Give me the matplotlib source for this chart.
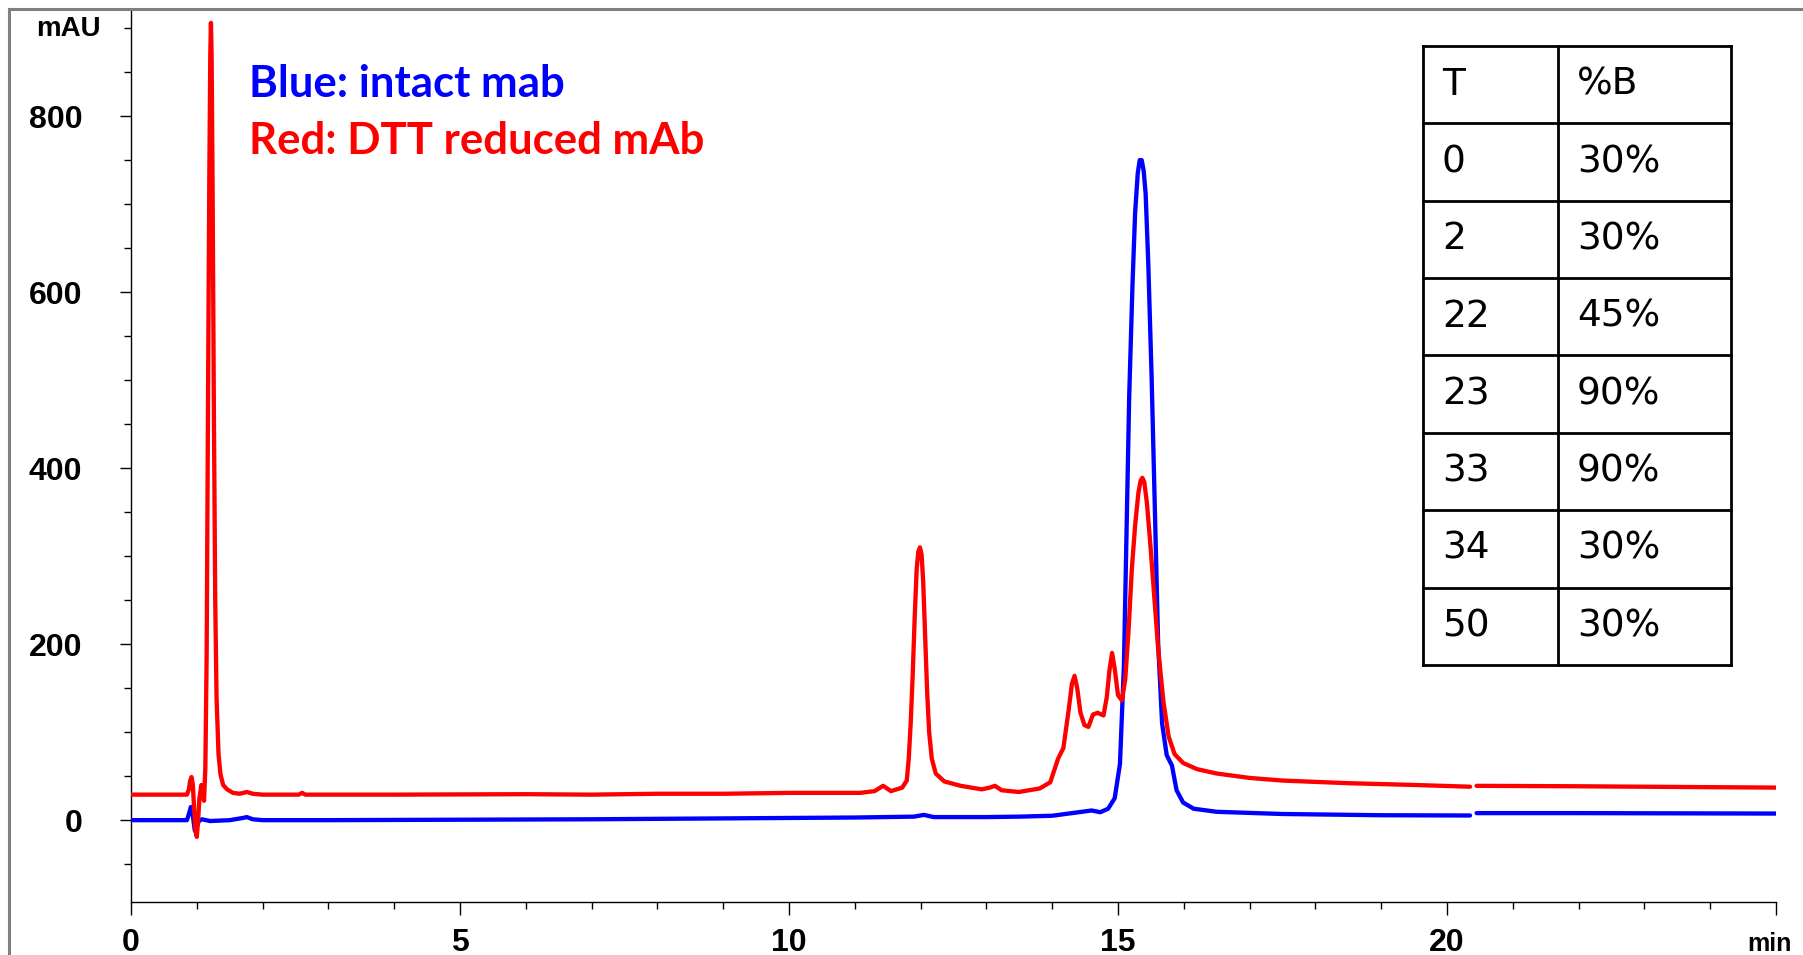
import numpy as np
import matplotlib
matplotlib.use("Agg")
import matplotlib.pyplot as plt
from matplotlib.lines import Line2D

nan = float("nan")

# ---- data ----
red_t = [0.0, 0.5, 0.85, 0.88, 0.90, 0.92, 0.94, 0.96, 0.98, 1.00, 1.02, 1.04, 1.07, 1.09, 1.11,
         1.13, 1.15, 1.17, 1.19, 1.205, 1.215, 1.225, 1.24, 1.26, 1.28, 1.30, 1.33, 1.36, 1.40,
         1.46, 1.55, 1.65, 1.76, 1.85, 2.0, 2.55, 2.6, 2.65,
         4.0, 6.0, 7.0, 8.0, 9.0, 10.0, 10.5, 11.08, 11.3, 11.43, 11.55, 11.72, 11.79, 11.82,
         11.85, 11.88, 11.91, 11.94, 11.965, 11.99, 12.015, 12.04, 12.07, 12.10, 12.13, 12.17,
         12.23, 12.36, 12.61, 12.93, 13.05, 13.13, 13.23, 13.49, 13.81, 13.97, 14.09, 14.17,
         14.25, 14.30, 14.34, 14.38, 14.43, 14.49, 14.55, 14.62, 14.69, 14.78, 14.83, 14.87,
         14.91, 14.95, 15.00, 15.06, 15.11, 15.16, 15.21, 15.26, 15.31, 15.345, 15.37, 15.40,
         15.44, 15.49, 15.55, 15.61, 15.69, 15.77, 15.86, 15.99, 16.2, 16.5, 17.0, 17.5, 18.5,
         19.5, 20.35, 20.4, 20.45, 22.0, 25.0]
red_y = [29, 29, 29, 35, 45, 49, 40, 12, -12, -19, 0, 25, 40, 30, 22,
         60, 190, 470, 730, 870, 906, 870, 720, 460, 250, 140, 75, 52, 40,
         35, 31, 30, 32, 30, 29, 29, 31, 29,
         29, 29.5, 29, 30, 30, 31, 31, 31, 33, 39, 33, 37, 45, 70,
         111, 165, 230, 285, 305, 310, 302, 270, 207, 145, 100, 70,
         53, 44, 39, 35, 37, 39, 34, 32, 36, 43, 70, 82,
         125, 155, 164, 150, 122, 108, 106, 120, 122, 119, 140, 170,
         190, 172, 142, 136, 160, 215, 285, 335, 372, 386, 389, 384,
         360, 315, 255, 195, 135, 95, 75, 65, 58, 53, 48, 45, 42,
         40, 38, nan, 39, 38.5, 37]

blue_t = [0.0, 0.85, 0.88, 0.91, 0.94, 0.97, 1.00, 1.03, 1.08, 1.2, 1.5, 1.7, 1.76, 1.85, 2.0,
          3.0, 5.0, 7.0, 9.0, 10.0, 11.0, 11.9, 12.05, 12.2, 13.0, 13.5, 14.0, 14.3, 14.6,
          14.73, 14.85, 14.95, 15.03, 15.09, 15.13, 15.17, 15.22, 15.26, 15.30, 15.33, 15.36,
          15.39, 15.42, 15.46, 15.51, 15.56, 15.61, 15.67, 15.74, 15.82, 15.89, 15.99, 16.15,
          16.5, 17.5, 19.0, 20.35, 20.4, 20.45, 22.0, 25.0]
blue_y = [0, 0, 7, 15, 5, -12, -8, -1, 1, -1, 0, 2.5, 3.5, 1, 0,
          0, 0.5, 1, 2, 2.5, 3, 4, 6, 3.5, 3.5, 4, 5, 8, 11,
          9, 13, 25, 64, 176, 328, 481, 608, 690, 735, 750, 750,
          738, 712, 633, 506, 354, 201, 110, 74, 62, 34, 20, 13,
          9.5, 7, 5.6, 5.3, nan, 8, 8, 7.5]

x_major = [0, 5, 10, 15, 20, 25]
x_labels = ["0", "5", "10", "15", "20", ""]
y_major = [0, 200, 400, 600, 800]
y_labels = ["0", "200", "400", "600", "800"]

table_T = ["0", "2", "22", "23", "33", "34", "50"]
table_B = ["30%", "30%", "45%", "90%", "90%", "30%", "30%"]

# ---- figure ----
W, H = 1803, 955
fig = plt.figure(figsize=(W / 100, H / 100), dpi=100)

def fx(px):
    return px / W

def fy(py):
    return 1 - py / H

ymin, ymax = -93, 922
ppu = 0.88
ax_left, ax_right, ax_bottom = 131, 1776, 902
ax_h = (ymax - ymin) * ppu
ax = fig.add_axes([fx(ax_left), fy(ax_bottom), (ax_right - ax_left) / W, ax_h / H])

ax.plot(blue_t, blue_y, color="#0000FF", lw=3.1, solid_joinstyle="round",
        solid_capstyle="round", zorder=3)
ax.plot(red_t, red_y, color="#FF0000", lw=3.1, solid_joinstyle="round",
        solid_capstyle="round", zorder=3)

ax.set_xlim(0, 25)
ax.set_ylim(ymin, ymax)
for s in ["top", "right"]:
    ax.spines[s].set_visible(False)
for s in ["left", "bottom"]:
    ax.spines[s].set_linewidth(1.0)

narrow = ["Liberation Sans Narrow", "Liberation Sans", "DejaVu Sans"]
tick_font = dict(family=narrow, weight="bold", size=23)
ax.set_xticks(x_major)
ax.set_xticklabels(x_labels, fontdict=tick_font)
ax.set_xticks(np.arange(0, 26, 1), minor=True)
ax.set_yticks(y_major)
ax.set_yticklabels(y_labels, fontdict=tick_font)
ax.set_yticks(np.arange(-50, 901, 50), minor=True)
ax.tick_params(axis="x", which="major", length=9, width=1.0, pad=10)
ax.tick_params(axis="x", which="minor", length=5, width=1.0)
ax.tick_params(axis="y", which="major", length=8, width=1.0, pad=27)
ax.tick_params(axis="y", which="minor", length=5, width=1.0)

# unit labels
fig.text(fx(101), fy(29), "mAU", ha="right", va="center",
         family=narrow, weight="bold", size=20)
fig.text(fx(1769), fy(944), "min", ha="center", va="center",
         family=narrow, weight="bold", size=18)

# legend-like annotations
fig.text(fx(249), fy(84), "Blue: intact mab", color="#0000FF", ha="left", va="center",
         family=["Lato", "DejaVu Sans"], weight="bold", size=31.5)
fig.text(fx(249), fy(141), "Red: DTT reduced mAb", color="#FF0000", ha="left", va="center",
         family=["Lato", "DejaVu Sans"], weight="bold", size=31.5)

# gradient table
t_left, t_mid, t_right = 1423, 1558, 1731
t_top, t_bot = 46, 665
nrows = len(table_T) + 1
row_h = (t_bot - t_top) / nrows
lw_tab = 2.0
for i in range(nrows + 1):
    yy = t_top + i * row_h
    fig.add_artist(Line2D([fx(t_left), fx(t_right)], [fy(yy), fy(yy)],
                          transform=fig.transFigure, color="black", lw=lw_tab))
for xx in (t_left, t_mid, t_right):
    fig.add_artist(Line2D([fx(xx), fx(xx)], [fy(t_top), fy(t_bot)],
                          transform=fig.transFigure, color="black", lw=lw_tab))
rows = [("T", "%B")] + list(zip(table_T, table_B))
for i, (a, b) in enumerate(rows):
    yc = t_top + (i + 0.5) * row_h
    fig.text(fx(1442), fy(yc), a, ha="left", va="center", family="DejaVu Sans", size=27)
    fig.text(fx(1577), fy(yc), b, ha="left", va="center", family="DejaVu Sans", size=27)

# slide frame (gray)
fig.add_artist(Line2D([fx(9), 1], [fy(9), fy(9)], transform=fig.transFigure,
                      color="#808080", lw=2.2))
fig.add_artist(Line2D([fx(9), fx(9)], [0, fy(9)], transform=fig.transFigure,
                      color="#808080", lw=2.2))

fig.savefig("out.png", dpi=100)
